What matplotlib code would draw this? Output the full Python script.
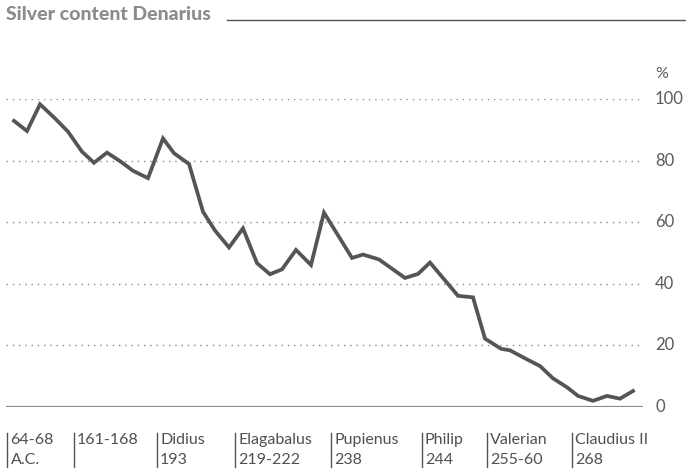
import matplotlib.pyplot as plt

# Silver content of the denarius
# x is a position on the time axis (left of chart = 6, right = 643)
x_pos = [14, 27, 40, 55, 68, 82, 94, 107, 121, 133, 148, 163, 174, 189,
         203, 215, 229, 243, 257, 270, 282, 296, 311, 324, 352, 363, 379,
         405, 418, 430, 458, 473, 485, 501, 510, 525, 540, 553, 567, 578,
         593, 607, 620, 633]
silver = [92.9, 89.6, 98.3, 93.7, 89.4, 82.9, 79.3, 82.6, 79.6, 76.7, 74.3,
          87.2, 82.4, 78.9, 63.4, 57.3, 51.8, 58.0, 46.7, 43.1, 44.7, 51.0,
          46.1, 63.1, 48.4, 49.5, 47.9, 41.9, 43.2, 46.9, 36.1, 35.6, 22.2,
          18.9, 18.4, 15.8, 13.3, 9.3, 6.4, 3.6, 2.0, 3.6, 2.7, 5.2]

y_ticks = [0, 20, 40, 60, 80, 100]

# emperor markers under the axis
mark_pos = [7.5, 74, 157, 235, 331, 422, 487, 572]
mark_line1 = ['64-68', '161-168', 'Didius', 'Elagabalus', 'Pupienus',
              'Philip', 'Valerian', 'Claudius II']
mark_line2 = ['A.C.', '', '193', '219-222', '238', '244', '255-60', '268']

plt.rcParams['font.family'] = ['Lato', 'DejaVu Sans']

W, H = 686, 473
fig = plt.figure(figsize=(W / 100, H / 100), dpi=100)
ax = fig.add_axes([6 / W, (H - 407) / H, 637 / W, 308 / H])
ax.set_xlim(6, 643)
ax.set_ylim(0, 100)

for v in y_ticks[1:]:
    ax.axhline(v, color='#8a8a8a', lw=1.0, linestyle=(0, (1, 3.5)), zorder=1)
ax.axhline(0, color='#8c8c8c', lw=1.6, zorder=2)

ax.plot(x_pos, silver, color='#555555', lw=2.7, solid_joinstyle='miter', zorder=3)

for side in ax.spines.values():
    side.set_visible(False)
ax.set_xticks([])
ax.set_yticks([])

# y labels on the right
for v in y_ticks:
    ax.text(655, v, str(v), fontsize=12, color='#5a5a5a',
            ha='left', va='center', clip_on=False)
ax.text(655, 108, '%', fontsize=11.5, color='#5a5a5a',
        ha='left', va='center', clip_on=False)

# emperor marks
for p, l1, l2 in zip(mark_pos, mark_line1, mark_line2):
    ax.plot([p, p], [-8.4, -19.6], color='#555555', lw=1.0, clip_on=False)
    ax.text(p + 3, -10.7, l1, fontsize=11.5, color='#505050',
            ha='left', va='center', clip_on=False)
    ax.text(p + 3, -17.2, l2, fontsize=11.5, color='#505050',
            ha='left', va='center', clip_on=False)

# title and rule
fig.text(6 / W, 1 - 15 / H, 'Silver content Denarius', fontsize=14,
         fontweight='black', color='#8c8c8c', ha='left', va='center')
fig.add_artist(plt.Line2D([227 / W, 1.0], [1 - 20.5 / H, 1 - 20.5 / H],
                          color='#555555', lw=1.0))

fig.savefig('out.png', dpi=100)
